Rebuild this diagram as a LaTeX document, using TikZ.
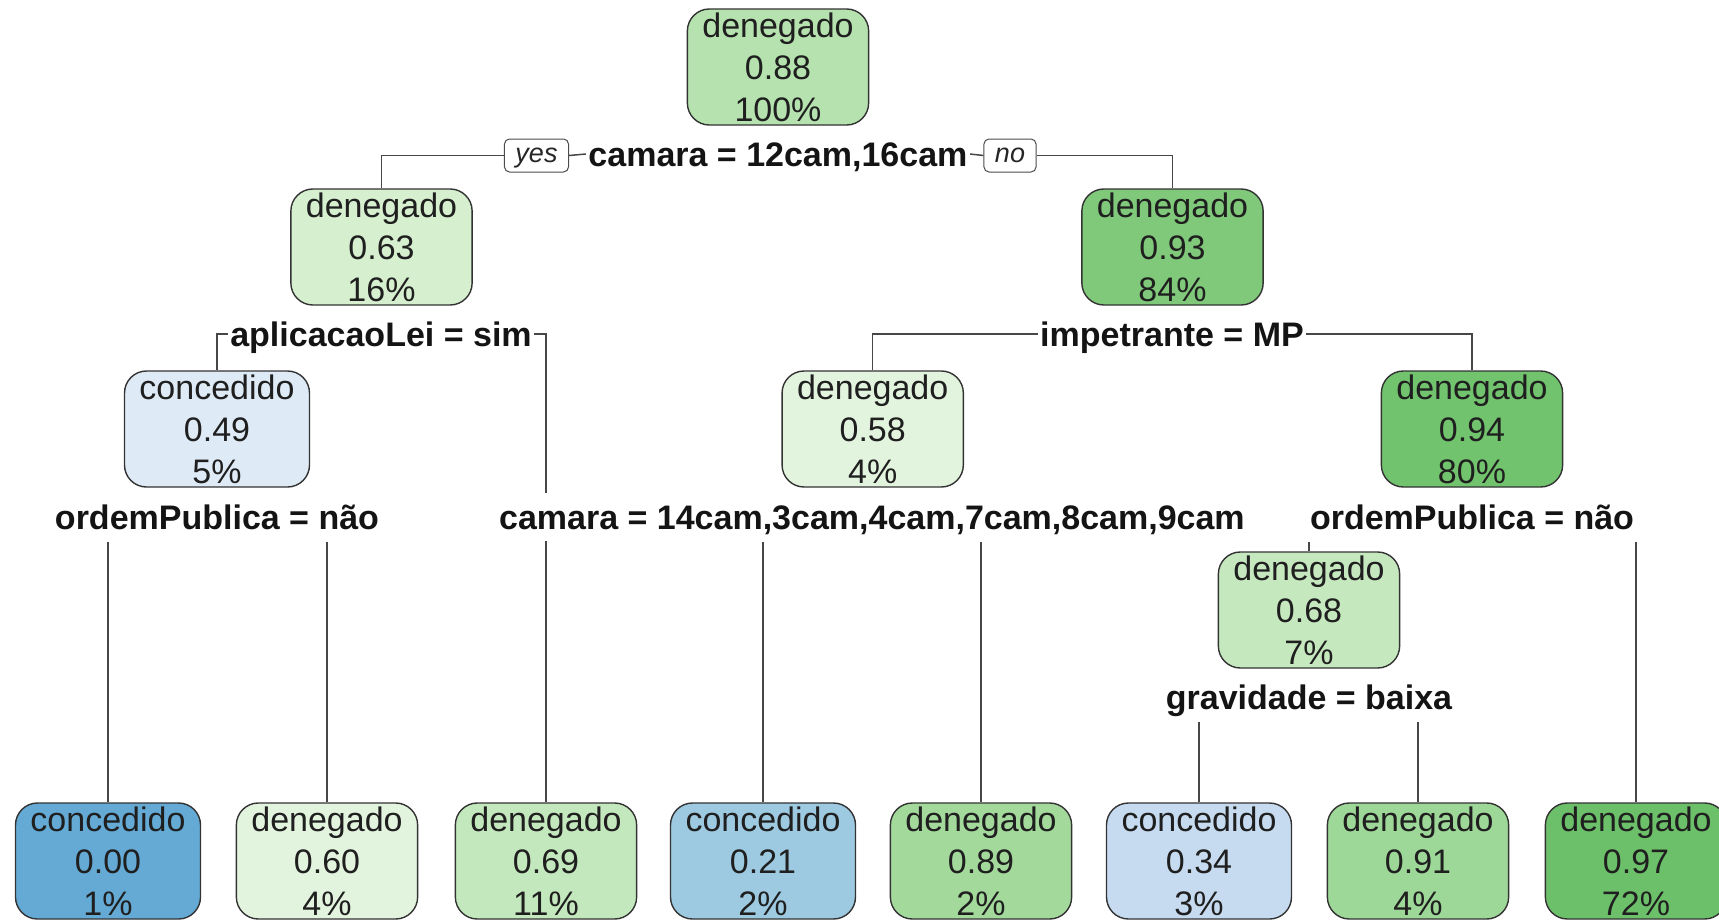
\documentclass[tikz,border=0pt]{standalone}
\usepackage{fontspec}
\setmainfont{Liberation Sans}
\usetikzlibrary{backgrounds}
\definecolor{g88}{HTML}{B5E2AE}
\definecolor{g63}{HTML}{D5EFCF}
\definecolor{g93}{HTML}{80C97A}
\definecolor{g94}{HTML}{72C36E}
\definecolor{g97}{HTML}{6DC06A}
\definecolor{g58}{HTML}{E3F4DE}
\definecolor{g60}{HTML}{E3F4DE}
\definecolor{g68}{HTML}{C6E8BF}
\definecolor{g69}{HTML}{C4E8BD}
\definecolor{g89}{HTML}{A3DA9C}
\definecolor{g91}{HTML}{9ED898}
\definecolor{b49}{HTML}{DEEAF6}
\definecolor{b34}{HTML}{C6DBEF}
\definecolor{b21}{HTML}{9DCAE1}
\definecolor{b00}{HTML}{64AAD5}
\tikzset{
  box/.style={draw=black!80, line width=0.7pt, rounded corners=11pt, inner xsep=7.5pt, inner ysep=0pt,
    minimum height=58pt, align=center, font=\fontsize{17}{21}\selectfont, text=black!88},
  lbl/.style={fill=white, inner xsep=1pt, inner ysep=6pt, text height=12.2pt, text depth=0pt,
    font=\fontsize{17}{20}\selectfont\bfseries, text=black!92},
  yn/.style={draw=black!70, line width=0.5pt, rounded corners=2.5pt, fill=white,
    font=\fontsize{13.5}{14}\selectfont\itshape, inner xsep=5.5pt, inner ysep=0pt,
    minimum height=16.5pt, text height=9.5pt, text depth=2.5pt, text=black!85},
  edge/.style={draw=black!72, line width=0.75pt},
}
\begin{document}
\begin{tikzpicture}[x=0.5pt,y=-0.5pt]
\useasboundingbox (0,0) rectangle (1719,921);
% level 0
\node[box, fill=g88] (root) at (778,67) {denegado\\0.88\\100\%};
\node[lbl] (s1) at (778,154) {camara = 12cam,16cam};
\node[yn] (yes) at (536.5,155.5) {yes};
\node[yn] (no) at (1010,155.5) {no};
% level 1
\node[box, fill=g63] (L1) at (381.5,247) {denegado\\0.63\\16\%};
\node[box, fill=g93] (R1) at (1172.5,247) {denegado\\0.93\\84\%};
\node[lbl] (s2) at (381,334) {aplicacaoLei = sim};
\node[lbl] (s3) at (1172,334) {impetrante = MP};
% level 2
\node[box, fill=b49] (L2a) at (217,429) {concedido\\0.49\\5\%};
\node[box, fill=g58] (L2b) at (872.7,429) {denegado\\0.58\\4\%};
\node[box, fill=g94] (L2c) at (1472,429) {denegado\\0.94\\80\%};
\node[lbl] (s4) at (217,517) {ordemPublica = não};
\node[lbl] (s5) at (872,517) {camara = 14cam,3cam,4cam,7cam,8cam,9cam};
\node[lbl] (s6) at (1472,517) {ordemPublica = não};
% level 3
\node[box, fill=g68] (L3) at (1309,610) {denegado\\0.68\\7\%};
\node[lbl] (s7) at (1309,697) {gravidade = baixa};
% leaves
\node[box, fill=b00] (f1) at (108,861) {concedido\\0.00\\1\%};
\node[box, fill=g60] (f2) at (327,861) {denegado\\0.60\\4\%};
\node[box, fill=g69] (f3) at (546,861) {denegado\\0.69\\11\%};
\node[box, fill=b21] (f4) at (763,861) {concedido\\0.21\\2\%};
\node[box, fill=g89] (f5) at (981,861) {denegado\\0.89\\2\%};
\node[box, fill=b34] (f6) at (1199,861) {concedido\\0.34\\3\%};
\node[box, fill=g91] (f7) at (1418,861) {denegado\\0.91\\4\%};
\node[box, fill=g97] (f8) at (1636,861) {denegado\\0.97\\72\%};
% connectors
\begin{scope}[on background layer]
\draw[edge] (yes.west) -| (L1.north);
\draw[edge] (yes.east) -- (s1.west);
\draw[edge] (s1.east) -- (no.west);
\draw[edge] (no.east) -| (R1.north);
\draw[edge] (s2.west) -| (L2a.north);
\draw[edge] (s2.east) -| (f3.north);
\draw[edge] (s3.west) -| (L2b.north);
\draw[edge] (s3.east) -| (L2c.north);
\draw[edge] (s4.south -| f1.north) -- (f1.north);
\draw[edge] (s4.south -| f2.north) -- (f2.north);
\draw[edge] (s5.south -| f4.north) -- (f4.north);
\draw[edge] (s5.south -| f5.north) -- (f5.north);
\draw[edge] (s6.south -| L3.north) -- (L3.north);
\draw[edge] (s6.south -| f8.north) -- (f8.north);
\draw[edge] (s7.south -| f6.north) -- (f6.north);
\draw[edge] (s7.south -| f7.north) -- (f7.north);
\end{scope}
\end{tikzpicture}
\end{document}
